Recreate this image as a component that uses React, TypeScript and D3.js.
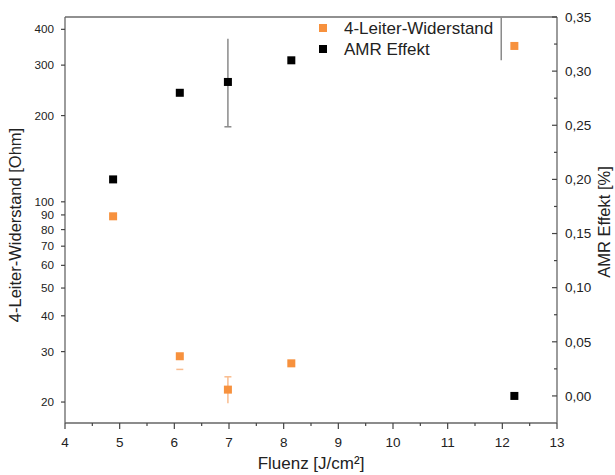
import React from "react";
import * as d3 from "d3";

// Fluence values [J/cm²]
const fluence = [4.88, 6.1, 6.98, 8.14, 12.22];
// Four-wire resistance [Ohm]
const resistance = [89, 28.9, 22.1, 27.3, 350];
// AMR effect [%]
const amr = [0.2, 0.28, 0.29, 0.31, 0.0];

// Error bars: [fluence, low, high, capLow, capHigh]
const resistanceErr: [number, number, number, boolean, boolean][] = [
  [6.1, 26.0, 26.0, true, false],
  [6.98, 19.8, 24.5, false, true],
];
const amrErr: [number, number, number, boolean, boolean][] = [
  [6.98, 0.2486, 0.33, true, false],
  [11.98, 0.31, 0.4, false, false],
];

const xTicks = [4, 5, 6, 7, 8, 9, 10, 11, 12, 13];
const leftTicks = [20, 30, 40, 50, 60, 70, 80, 90, 100, 200, 300, 400];
const rightTicks = [0, 0.05, 0.1, 0.15, 0.2, 0.25, 0.3, 0.35];

const W = 615;
const H = 475;
const m = { left: 65, right: 557, top: 17, bottom: 423 };

const ORANGE = "#F7913D";
const ORANGE_LIGHT = "#F9BC8E";
const GRAY = "#8a8a8a";
const FONT = "Liberation Sans, Arial, sans-serif";

export default function App() {
  const x = d3.scaleLinear().domain([4, 13]).range([m.left, m.right]);
  const yL = d3.scaleLog().domain([16.9, 441.7]).range([m.bottom, m.top]);
  const yR = d3.scaleLinear().domain([-0.025, 0.35]).range([m.bottom, m.top]);
  const fmtR = (v: number) => d3.format(".2f")(v).replace(".", ",");
  const sq = 8;
  const minorX = d3.range(4.5, 13, 1);
  const minorR = d3.range(-0.025, 0.35, 0.05).map((v) => +v.toFixed(3)).filter((v) => v > -0.02);

  return (
    <svg width={W} height={H} style={{ position: "absolute", left: 0, top: 0 }} fontFamily={FONT}>
      <rect width={W} height={H} fill="#fff" />
      <defs>
        <clipPath id="plot">
          <rect x={m.left} y={m.top} width={m.right - m.left} height={m.bottom - m.top} />
        </clipPath>
      </defs>

      {/* frame */}
      <line x1={m.left} x2={m.right} y1={m.top} y2={m.top} stroke="#222" strokeWidth={1.2} />
      <line x1={m.left} x2={m.left} y1={m.top} y2={m.bottom} stroke="#666" strokeWidth={1.3} />
      <line x1={m.right} x2={m.right} y1={m.top} y2={m.bottom} stroke="#666" strokeWidth={1.3} />
      <line x1={m.left} x2={m.right} y1={m.bottom} y2={m.bottom} stroke="#666" strokeWidth={1.3} />

      {/* x axis */}
      {xTicks.map((t) => (
        <g key={"x" + t}>
          <line x1={x(t)} x2={x(t)} y1={m.bottom} y2={m.bottom + 6} stroke="#444" strokeWidth={1.2} />
          <text x={x(t)} y={447} fontSize={13.5} textAnchor="middle" fill="#222">{t}</text>
        </g>
      ))}
      {minorX.map((t) => (
        <line key={"mx" + t} x1={x(t)} x2={x(t)} y1={m.bottom} y2={m.bottom + 3} stroke="#444" strokeWidth={1.2} />
      ))}
      <text x={(m.left + m.right) / 2} y={469} fontSize={17} textAnchor="middle" fill="#222">Fluenz [J/cm²]</text>

      {/* left log axis */}
      {leftTicks.map((t) => (
        <g key={"l" + t}>
          <line x1={m.left - 4} x2={m.left} y1={yL(t)} y2={yL(t)} stroke="#444" strokeWidth={1.2} />
          <text x={m.left - 11} y={yL(t)} dy="0.35em" fontSize={11.7} textAnchor="end" fill="#222">{t}</text>
        </g>
      ))}
      <text
        transform={`translate(21,225) rotate(-90)`}
        fontSize={16.5}
        textAnchor="middle"
        fill="#222"
      >
        4-Leiter-Widerstand [Ohm]
      </text>

      {/* right linear axis */}
      {rightTicks.map((t) => (
        <g key={"r" + t}>
          <line x1={m.right - 5} x2={m.right} y1={yR(t)} y2={yR(t)} stroke="#444" strokeWidth={1.2} />
          <text x={m.right + 8} y={yR(t)} dy="0.35em" fontSize={13.5} textAnchor="start" fill="#222">{fmtR(t)}</text>
        </g>
      ))}
      {minorR.map((t) => (
        <line key={"mr" + t} x1={m.right - 3} x2={m.right} y1={yR(t)} y2={yR(t)} stroke="#444" strokeWidth={1.2} />
      ))}
      <text
        transform={`translate(610,222) rotate(-90)`}
        fontSize={16.5}
        textAnchor="middle"
        fill="#222"
      >
        AMR Effekt [%]
      </text>

      <g clipPath="url(#plot)">
        {/* error bars */}
        {resistanceErr.map(([f, lo, hi, capLo, capHi], i) => (
          <g key={"re" + i} stroke={ORANGE_LIGHT} strokeWidth={1.5}>
            {lo !== hi && <line x1={x(f)} x2={x(f)} y1={yL(lo)} y2={yL(hi)} />}
            {capLo && <line x1={x(f) - 3.5} x2={x(f) + 3.5} y1={yL(lo)} y2={yL(lo)} />}
            {capHi && <line x1={x(f) - 3.5} x2={x(f) + 3.5} y1={yL(hi)} y2={yL(hi)} />}
          </g>
        ))}
        {amrErr.map(([f, lo, hi, capLo, capHi], i) => (
          <g key={"ae" + i} stroke={GRAY} strokeWidth={1.5}>
            <line x1={x(f)} x2={x(f)} y1={yR(lo)} y2={yR(hi)} />
            {capLo && <line x1={x(f) - 3.5} x2={x(f) + 3.5} y1={yR(lo)} y2={yR(lo)} />}
            {capHi && <line x1={x(f) - 3.5} x2={x(f) + 3.5} y1={yR(hi)} y2={yR(hi)} />}
          </g>
        ))}

        {/* markers */}
        {fluence.map((f, i) => (
          <rect key={"rm" + i} x={x(f) - sq / 2} y={yL(resistance[i]) - sq / 2} width={sq} height={sq} fill={ORANGE} />
        ))}
        {fluence.map((f, i) => (
          <rect key={"am" + i} x={x(f) - sq / 2} y={yR(amr[i]) - sq / 2} width={sq} height={sq} fill="#000" />
        ))}
      </g>

      {/* legend */}
      <rect x={319} y={24} width={8} height={8} fill={ORANGE} />
      <text x={344} y={28} dy="0.35em" fontSize={17} fill="#222">4-Leiter-Widerstand</text>
      <rect x={319} y={45} width={8} height={8} fill="#000" />
      <text x={344} y={49} dy="0.35em" fontSize={17} fill="#222">AMR Effekt</text>
    </svg>
  );
}
